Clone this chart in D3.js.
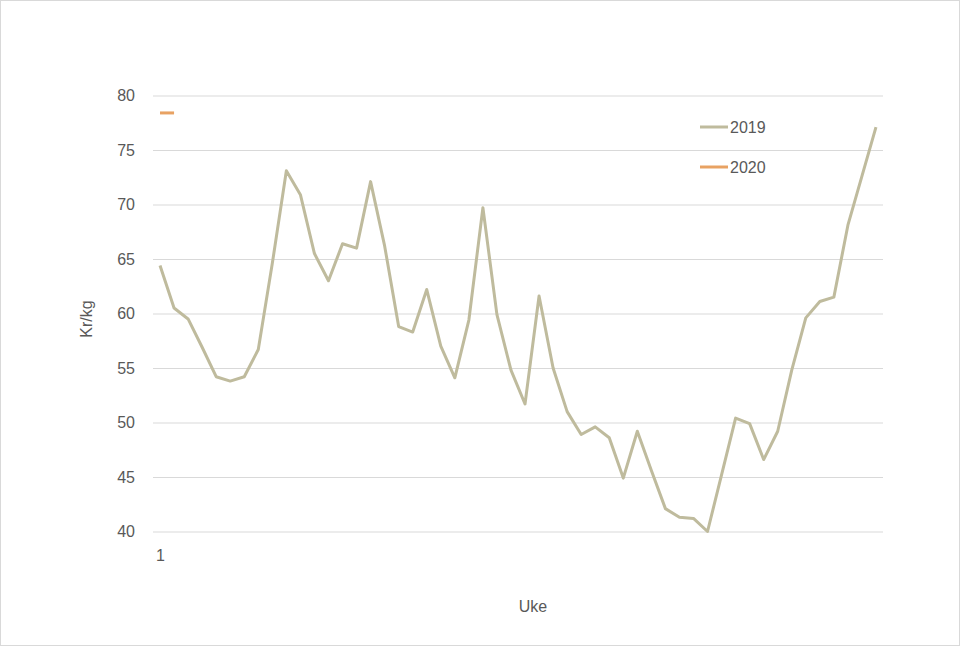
<!DOCTYPE html>
<html>
<head>
<meta charset="utf-8">
<script src="https://cdn.jsdelivr.net/npm/d3@7"></script>
<style>
  body { margin: 0; background: #fff; }
  text { font-family: "Liberation Sans", "DejaVu Sans", sans-serif; fill: #595959; }
</style>
</head>
<body>
<div id="chart"></div>
<script>
// weeks (Uke) 1..52
const weeks = d3.range(1, 53);
const price2019 = [64.4, 60.5, 59.5, 56.9, 54.2, 53.8, 54.2, 56.7, 64.6, 73.1,
  70.9, 65.5, 63.0, 66.4, 66.0, 72.1, 66.2, 58.8, 58.3, 62.2,
  57.0, 54.1, 59.4, 69.7, 59.9, 54.8, 51.7, 61.6, 55.0, 51.0,
  48.9, 49.6, 48.6, 44.9, 49.2, 45.6, 42.1, 41.3, 41.2, 40.0,
  45.2, 50.4, 49.9, 46.6, 49.2, 54.8, 59.6, 61.1, 61.5, 68.1,
  72.6, 77.1];
const price2020 = [78.4, 78.4];
const seriesNames = ["2019", "2020"];
const seriesColors = ["#bfbb9d", "#e8a263"];
const yTicks = [40, 45, 50, 55, 60, 65, 70, 75, 80];
const xTickLabels = [1];

const width = 960, height = 646;
const plotLeft = 153, plotRight = 883, plotTop = 95.5, plotBottom = 531.5;

const svg = d3.select("#chart").append("svg")
  .attr("width", width)
  .attr("height", height);

svg.append("rect")
  .attr("x", 0.5).attr("y", 0.5)
  .attr("width", width - 1).attr("height", height - 1)
  .attr("fill", "#fff")
  .attr("stroke", "#d9d9d9");

const x = d3.scalePoint()
  .domain(weeks)
  .range([plotLeft, plotRight])
  .padding(0.5);

const y = d3.scaleLinear()
  .domain([40, 80])
  .range([plotBottom, plotTop]);

// gridlines + y labels
const yAxis = svg.append("g")
  .attr("transform", `translate(${plotLeft},0)`)
  .call(d3.axisLeft(y).tickValues(yTicks).tickSize(-(plotRight - plotLeft)).tickPadding(18).tickFormat(d3.format("d")));
yAxis.select(".domain").remove();
yAxis.selectAll(".tick line").attr("stroke", "#d9d9d9");
yAxis.selectAll(".tick text")
  .attr("fill", "#595959")
  .style("font-size", "16px");

// x labels
const xAxis = svg.append("g")
  .attr("transform", `translate(0,${plotBottom})`)
  .call(d3.axisBottom(x).tickValues(xTickLabels).tickSize(0).tickPadding(18));
xAxis.select(".domain").remove();
xAxis.selectAll(".tick text")
  .attr("fill", "#595959")
  .style("font-size", "16px");

const line = d3.line()
  .x((d, i) => x(weeks[i]))
  .y(d => y(d));

[price2019, price2020].forEach((vals, k) => {
  svg.append("path")
    .datum(vals)
    .attr("fill", "none")
    .attr("stroke", seriesColors[k])
    .attr("stroke-width", 3)
    .attr("stroke-linejoin", "round")
    .attr("d", line);
});

// legend
const legend = svg.append("g");
seriesNames.forEach((name, k) => {
  const ly = 127 + k * 40;
  legend.append("line")
    .attr("x1", 700).attr("x2", 728)
    .attr("y1", ly).attr("y2", ly)
    .attr("stroke", seriesColors[k])
    .attr("stroke-width", 3);
  legend.append("text")
    .attr("x", 730).attr("y", ly)
    .attr("dy", "0.35em")
    .style("font-size", "16px")
    .text(name);
});

// axis titles
svg.append("text")
  .attr("x", 533).attr("y", 612)
  .attr("text-anchor", "middle")
  .style("font-size", "16px")
  .text("Uke");

svg.append("text")
  .attr("transform", "translate(92,319) rotate(-90)")
  .attr("text-anchor", "middle")
  .style("font-size", "16px")
  .text("Kr/kg");
</script>
</body>
</html>
